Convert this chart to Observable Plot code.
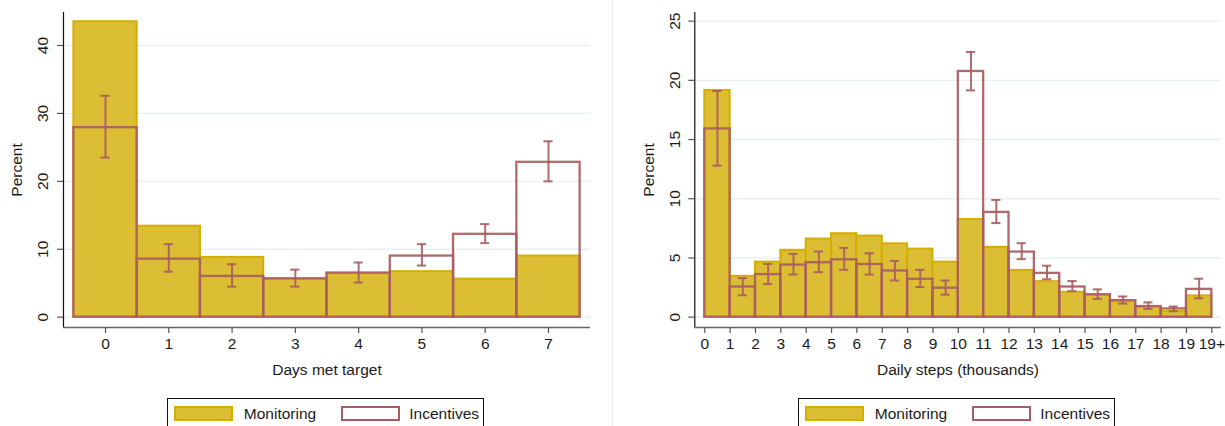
<!DOCTYPE html>
<html>
<head>
<meta charset="utf-8">
<script src="https://cdn.jsdelivr.net/npm/d3@7"></script>
<script src="https://cdn.jsdelivr.net/npm/@observablehq/plot@0.6"></script>
<style>
  html, body { margin: 0; padding: 0; background: #fff; overflow: hidden; }
  #wrap { position: relative; width: 1225px; height: 426px; overflow: hidden; background: #fff;
          font-family: "Liberation Sans", Arial, sans-serif; color: #1a1a1a; }
  #wrap svg { position: absolute; top: 0; }
  .divider { position: absolute; left: 612px; top: 0; width: 1px; height: 426px; background: #e6eef0; }
  .legend { position: absolute; top: 398px; width: 317px; height: 34px; border: 1px solid #111; box-sizing: border-box; background: #fff; }
  .sw { position: absolute; top: 7px; width: 59px; height: 15px; box-sizing: border-box; }
  .sw.mon { background: #dbbe34; border: 2px solid #d4ae00; }
  .sw.inc { background: #fff; border: 2px solid #a95c61; }
  .lt { position: absolute; top: 7px; font-size: 15.5px; line-height: 15.5px; white-space: nowrap; }
</style>
</head>
<body>
<div id="wrap"></div>
<script>
// Left panel: share of participants by number of days the step target was met
const days = [0, 1, 2, 3, 4, 5, 6, 7];
const monitoringDays = [43.5, 13.4, 8.8, 5.6, 6.4, 6.7, 5.6, 9.0];
const incentiveDays = [27.9, 8.55, 6.0, 5.65, 6.5, 9.0, 12.2, 22.8];
const incentiveDaysLo = [23.5, 6.7, 4.5, 4.5, 5.1, 7.6, 10.9, 20.0];
const incentiveDaysHi = [32.6, 10.75, 7.8, 7.0, 8.05, 10.75, 13.7, 25.9];
const daysYTicks = [0, 10, 20, 30, 40];

// Right panel: distribution of daily steps, in thousand-step bins (last bin is 19+)
const stepBins = [0, 1, 2, 3, 4, 5, 6, 7, 8, 9, 10, 11, 12, 13, 14, 15, 16, 17, 18, 19];
const monitoringSteps = [19.15, 3.45, 4.65, 5.65, 6.6, 7.05, 6.85, 6.2, 5.75, 4.65, 8.25, 5.9, 3.95, 3.0, 2.1, 1.85, 1.3, 0.85, 0.5, 1.8];
const incentiveSteps = [15.9, 2.55, 3.6, 4.4, 4.6, 4.85, 4.45, 3.9, 3.2, 2.45, 20.75, 8.85, 5.5, 3.7, 2.55, 1.9, 1.4, 0.9, 0.7, 2.35];
const incentiveStepsLo = [12.8, 1.85, 2.8, 3.6, 3.8, 4.0, 3.6, 3.1, 2.55, 1.9, 19.15, 7.95, 4.9, 3.2, 2.2, 1.55, 1.15, 0.7, 0.5, 1.6];
const incentiveStepsHi = [19.1, 3.3, 4.5, 5.35, 5.55, 5.85, 5.4, 4.75, 4.0, 3.1, 22.4, 9.9, 6.25, 4.35, 3.05, 2.35, 1.75, 1.25, 0.9, 3.25];
const stepsXTicks = [0, 1, 2, 3, 4, 5, 6, 7, 8, 9, 10, 11, 12, 13, 14, 15, 16, 17, 18, 19, 20];
const stepsXLabels = ["0", "1", "2", "3", "4", "5", "6", "7", "8", "9", "10", "11", "12", "13", "14", "15", "16", "17", "18", "19", "19+"];
const stepsYTicks = [0, 5, 10, 15, 20, 25];

const seriesNames = ["Monitoring", "Incentives"];

const GOLD_FILL = "#dbbe34";
const GOLD_EDGE = "#d4ae00";
const ROSE = "#a95c61";
const GRID = "#e8eff1";
const FONT = "15.5px";

function histPanel(o) {
  const n = o.bins.length;
  const rows = o.bins.map((b, i) => ({
    x1: b + o.shift - 0.5, x2: b + o.shift + 0.5, xc: b + o.shift,
    mon: o.mon[i], inc: o.inc[i], lo: o.lo[i], hi: o.hi[i]
  }));
  const [x0] = o.xDomain;
  const [y0] = o.yDomain;
  return Plot.plot({
    width: o.width, height: 390,
    marginLeft: o.marginLeft, marginRight: o.marginRight, marginTop: 12, marginBottom: 63,
    x: { domain: o.xDomain },
    y: { domain: o.yDomain },
    style: { fontFamily: '"Liberation Sans", Arial, sans-serif', fontSize: FONT, color: "#1a1a1a", background: "transparent", overflow: "visible" },
    marks: [
      Plot.ruleY(o.yTicks, { stroke: GRID, strokeWidth: 1.4 }),
      // Monitoring group: filled gold bars
      Plot.rect(rows, { x1: "x1", x2: "x2", y1: 0, y2: "mon", fill: GOLD_FILL, stroke: GOLD_EDGE, strokeWidth: 2 }),
      // Incentives group: hollow outlined bars with confidence intervals
      Plot.rect(rows, { x1: "x1", x2: "x2", y1: 0, y2: "inc", fill: "none", stroke: ROSE, strokeWidth: 2.3, strokeOpacity: 0.92 }),
      Plot.ruleX(rows, { x: "xc", y1: "lo", y2: "hi", stroke: ROSE, strokeWidth: 2, strokeOpacity: 0.9 }),
      Plot.ruleY(rows, { x1: d => d.xc - o.cap, x2: d => d.xc + o.cap, y: "lo", stroke: ROSE, strokeWidth: 2, strokeOpacity: 0.9 }),
      Plot.ruleY(rows, { x1: d => d.xc - o.cap, x2: d => d.xc + o.cap, y: "hi", stroke: ROSE, strokeWidth: 2, strokeOpacity: 0.9 }),
      // Axes
      Plot.ruleX([x0], { stroke: "#111", strokeWidth: 1.2 }),
      Plot.ruleY([y0], { stroke: "#666", strokeWidth: 1.6 }),
      Plot.axisY(o.yTicks, { tickSize: 6, tickFormat: () => "", label: null, stroke: "#555", strokeWidth: 1.2 }),
      Plot.text(o.yTicks, { y: d => d, frameAnchor: "left", dx: -20, rotate: -90, text: d => String(d),
        textAnchor: "middle", lineAnchor: "middle", fontSize: FONT, fill: "#1a1a1a" }),
      Plot.axisX(o.xTicks, { tickSize: 6, tickPadding: 4, tickFormat: (d, i) => o.xLabels[i], label: null,
        stroke: "#555", strokeWidth: 1.2, fontSize: FONT, fill: "#1a1a1a" }),
      Plot.text(["Percent"], { frameAnchor: "left", dx: -46, rotate: -90, textAnchor: "middle", lineAnchor: "middle", fontSize: FONT, fill: "#1a1a1a" }),
      Plot.text([o.xTitle], { frameAnchor: "bottom", dy: 43, textAnchor: "middle", lineAnchor: "middle", fontSize: FONT, fill: "#1a1a1a" })
    ]
  });
}

const wrap = document.getElementById("wrap");

const left = histPanel({
  width: 612, marginLeft: 63, marginRight: 22,
  xDomain: [-0.664, 7.664], yDomain: [-1.52, 44.86],
  bins: days, shift: 0, cap: 0.072,
  mon: monitoringDays, inc: incentiveDays, lo: incentiveDaysLo, hi: incentiveDaysHi,
  yTicks: daysYTicks, xTicks: days, xLabels: days.map(String),
  xTitle: "Days met target"
});
left.style.left = "0px";
wrap.appendChild(left);

const divider = document.createElement("div");
divider.className = "divider";
wrap.appendChild(divider);

const right = histPanel({
  width: 613, marginLeft: 82.3, marginRight: 4.3,
  xDomain: [-0.394, 20.37], yDomain: [-0.87, 25.73],
  bins: stepBins, shift: 0.5, cap: 0.18,
  mon: monitoringSteps, inc: incentiveSteps, lo: incentiveStepsLo, hi: incentiveStepsHi,
  yTicks: stepsYTicks, xTicks: stepsXTicks, xLabels: stepsXLabels,
  xTitle: "Daily steps (thousands)"
});
right.style.left = "612px";
wrap.appendChild(right);

// Legends below each panel
function legend(leftPx) {
  const box = document.createElement("div");
  box.className = "legend";
  box.style.left = leftPx + "px";
  const items = [
    { cls: "mon", sw: 6, tx: 75.5 },
    { cls: "inc", sw: 172.5, tx: 241 }
  ];
  items.forEach((it, i) => {
    const sw = document.createElement("div");
    sw.className = "sw " + it.cls;
    sw.style.left = it.sw + "px";
    box.appendChild(sw);
    const t = document.createElement("div");
    t.className = "lt";
    t.style.left = it.tx + "px";
    t.textContent = seriesNames[i];
    box.appendChild(t);
  });
  wrap.appendChild(box);
}
legend(167.3);
legend(798.3);
</script>
</body>
</html>
